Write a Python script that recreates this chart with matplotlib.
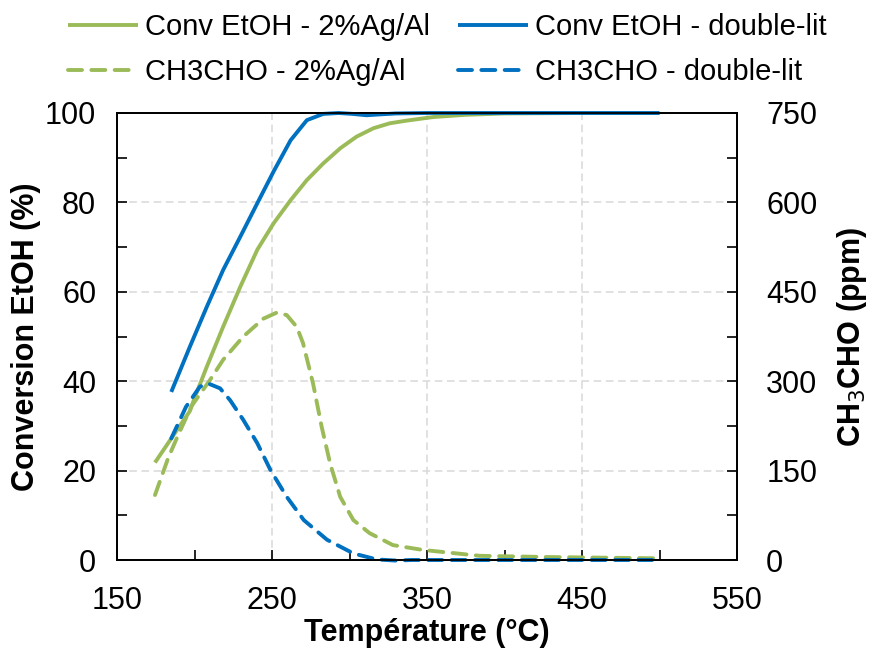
import matplotlib
matplotlib.use("Agg")
import matplotlib.pyplot as plt
from matplotlib.ticker import MultipleLocator, FixedLocator

plt.rcParams['font.family'] = ['Liberation Sans', 'DejaVu Sans']

# EtOH conversion (%) - left axis
t_conv_ag = [174.5, 186, 197, 200, 208, 218.5, 229.5, 240.5, 251, 262, 272.5, 283, 294, 304.5,
             315.5, 326, 337, 354, 375, 400, 450, 500]
conv_ag = [21.8, 27.7, 33.3, 36.2, 43.3, 52.2, 61.1, 69.4, 75.3, 80.5, 85, 88.7, 92.1, 94.7,
           96.6, 97.7, 98.3, 99.1, 99.6, 99.9, 100, 100]

t_conv_dl = [185, 197, 208, 218.5, 229.5, 240.5, 251, 262, 272.5, 283, 293, 302, 311, 320,
             330, 350, 400, 450, 500]
conv_dl = [37.6, 47.7, 56.7, 64.9, 72.3, 79.8, 86.9, 93.9, 98.4, 99.8, 100, 99.8, 99.5, 99.7,
           99.9, 100, 100, 100, 100]

# CH3CHO (ppm) - right axis
t_ald_ag = [174.5, 183, 189, 198, 210, 218.5, 231.5, 244.5, 253, 259.5, 266, 270, 276.5, 282,
            287.5, 294, 302.5, 313, 328, 347, 384, 427, 492, 500]
ald_ag = [109, 171, 207, 258, 302, 336, 375, 405, 415, 411, 391, 364, 296, 224,
          162, 106, 67, 45, 25, 17, 7, 5, 3, 3]

t_ald_dl = [185, 194.5, 203.5, 209, 216.5, 223, 231.5, 240.5, 249, 259.5, 270.5, 285.5, 302.5,
            317.5, 330, 340, 400, 450, 500]
ald_dl = [204, 257, 291, 296, 288, 268, 235, 196, 151, 106, 67, 34, 11,
          1, -1, 0, 0, 0, 0]

x_labels = [150, 250, 350, 450, 550]
x_minor = [200, 300, 400, 500]

green = '#9BBB59'
blue = '#0070C0'
lw = 2.8
dash = (0, (3.6, 2.4))

fig = plt.figure(figsize=(8.69, 6.5), dpi=100)
ax = fig.add_axes([117 / 869, 90 / 650, 620 / 869, 447 / 650])
ax2 = ax.twinx()

l1, = ax.plot(t_conv_ag, conv_ag, color=green, lw=lw, solid_capstyle='butt', solid_joinstyle='round',
              label='Conv EtOH - 2%Ag/Al', zorder=3)
l2, = ax.plot(t_conv_dl, conv_dl, color=blue, lw=lw, solid_capstyle='butt', solid_joinstyle='round',
              label='Conv EtOH - double-lit', zorder=3, clip_on=False)
l3, = ax2.plot(t_ald_ag, ald_ag, color=green, lw=lw, ls=dash, dash_capstyle='round',
               label='CH3CHO - 2%Ag/Al', clip_on=False)
l4, = ax2.plot(t_ald_dl, ald_dl, color=blue, lw=lw, ls=dash, dash_capstyle='round',
               label='CH3CHO - double-lit', clip_on=False)

ax.set_xlim(150, 550)
ax.set_ylim(0, 100)
ax2.set_ylim(0, 750)

ax.xaxis.set_major_locator(FixedLocator(x_labels))
ax.xaxis.set_minor_locator(FixedLocator(x_minor))
ax.yaxis.set_major_locator(MultipleLocator(20))
ax.yaxis.set_minor_locator(MultipleLocator(10))
ax2.yaxis.set_major_locator(MultipleLocator(150))
ax2.yaxis.set_minor_locator(MultipleLocator(75))

ax.grid(True, which='major', color='#D9D9D9', ls=(0, (5, 3)), lw=1.1)
ax.set_axisbelow(True)

for a in (ax, ax2):
    a.tick_params(which='both', direction='in', length=7, width=1.2, labelsize=22)
    for s in a.spines.values():
        s.set_linewidth(1.3)
ax.tick_params(axis='x', pad=19)
ax.tick_params(axis='y', pad=15)
ax2.tick_params(axis='y', pad=21)

ax.set_xlabel('Température (°C)', fontsize=22, fontweight='bold', labelpad=1.5)
ax.set_ylabel('Conversion EtOH (%)', fontsize=22, fontweight='bold', labelpad=3)
ax2.set_ylabel('CH$_3$CHO (ppm)', fontsize=22, fontweight='bold', labelpad=13)

fig.legend(handles=[l1, l3, l2, l4], ncol=2, loc='upper center',
           bbox_to_anchor=(0.515, 1.02), frameon=False,
           handlelength=2.4, handletextpad=0.25, columnspacing=0.95,
           labelspacing=0.58, prop={'size': 21})

fig.savefig('out.png', dpi=100)
